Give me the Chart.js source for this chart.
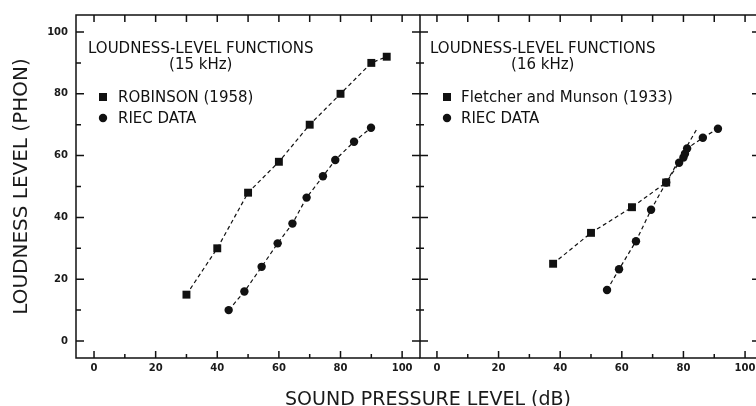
<!DOCTYPE html>
<html>
<head>
<meta charset="utf-8">
<script src="https://cdn.jsdelivr.net/npm/chart.js@4/dist/chart.umd.min.js"></script>
<style>
  html, body { margin: 0; padding: 0; background: #fff; width: 756px; height: 406px; overflow: hidden; position: relative; }
  #c1 { position: absolute; left: 0; top: 0; }
  #c2 { position: absolute; left: 410px; top: 0; }
  #xtitle { position: absolute; left: 0; top: 387px; width: 856px; height: 20px; line-height: 20px;
            text-align: center; font: 19px "DejaVu Sans", sans-serif; color: #1a1a1a; white-space: nowrap; }
</style>
</head>
<body>
<canvas id="c1" width="424" height="406"></canvas>
<canvas id="c2" width="350" height="406"></canvas>
<div id="xtitle">SOUND PRESSURE LEVEL (dB)</div>
<script>
// ---------- data ----------
const xTicks = [0, 20, 40, 60, 80, 100];
const xMinorTicks = [10, 30, 50, 70, 90];
const yTicks = [0, 20, 40, 60, 80, 100];
const yMinorTicks = [10, 30, 50, 70, 90];

const leftTitle = ['LOUDNESS-LEVEL FUNCTIONS', '(15 kHz)'];
const rightTitle = ['LOUDNESS-LEVEL FUNCTIONS', '(16 kHz)'];
const yAxisTitle = 'LOUDNESS LEVEL (PHON)';

// 15 kHz panel
const robinsonLabel = 'ROBINSON (1958)';
const robinsonSPL   = [30, 40, 50, 60, 70, 80, 90, 95];
const robinsonPhon  = [15, 30, 48, 58, 70, 80, 90, 92];

const riec15Label = 'RIEC DATA';
const riec15SPL   = [43.7, 48.8, 54.4, 59.6, 64.4, 69.0, 74.3, 78.3, 84.4, 89.9];
const riec15Phon  = [10.0, 16.0, 24.0, 31.6, 38.0, 46.4, 53.3, 58.6, 64.5, 69.0];

// 16 kHz panel
const fletcherLabel = 'Fletcher and Munson (1933)';
const fletcherSPL   = [37.7, 50.0, 63.3, 74.4, 84.4];
const fletcherPhon  = [25.0, 35.0, 43.3, 51.3, 68.7];

const riec16Label = 'RIEC DATA';
const riec16SPL   = [55.2, 59.1, 64.6, 69.5, 74.4, 78.6, 80.0, 80.5, 81.2, 86.3, 91.2];
const riec16Phon  = [16.5, 23.2, 32.3, 42.5, 51.3, 57.7, 59.4, 60.6, 62.3, 65.8, 68.7];

// ---------- helpers ----------
const INK = '#111';
const pts = (xs, ys) => xs.map((x, i) => ({ x, y: ys[i] }));

function makeDataset(label, xs, ys, style, hideLast) {
  const r = style === 'rect' ? 5.6 : 4.2;
  return {
    label,
    data: pts(xs, ys),
    showLine: true,
    borderColor: INK,
    backgroundColor: INK,
    borderWidth: 1.2,
    borderDash: [4, 3],
    pointStyle: style,
    pointRadius: hideLast ? (c => c.dataIndex === xs.length - 1 ? 0 : r) : r,
    pointBorderWidth: 0,
    pointHoverRadius: r,
    tension: 0
  };
}

// frame + inward tick marks, drawn from the scales
const framePlugin = {
  id: 'frame',
  afterDraw(chart, args, opts) {
    const { ctx, chartArea: { left, right, top, bottom }, scales: { x, y } } = chart;
    ctx.save();
    ctx.strokeStyle = INK;
    ctx.lineWidth = 1.5;
    ctx.beginPath();
    if (opts.mode === 'left') {
      ctx.moveTo(right, top); ctx.lineTo(left, top); ctx.lineTo(left, bottom); ctx.lineTo(right, bottom);
    } else {
      ctx.rect(left, top, right - left, bottom - top);
    }
    xTicks.forEach(v => {
      const px = x.getPixelForValue(v);
      ctx.moveTo(px, bottom); ctx.lineTo(px, bottom - 7);
      ctx.moveTo(px, top); ctx.lineTo(px, top + 7);
    });
    xMinorTicks.forEach(v => {
      const px = x.getPixelForValue(v);
      ctx.moveTo(px, bottom); ctx.lineTo(px, bottom - 4);
      ctx.moveTo(px, top); ctx.lineTo(px, top + 7);
    });
    yTicks.forEach(v => {
      const py = y.getPixelForValue(v);
      if (opts.mode === 'left') {
        ctx.moveTo(left, py); ctx.lineTo(left + 8, py);
      } else {
        ctx.moveTo(left - 8, py); ctx.lineTo(left + 8, py);
        ctx.moveTo(right, py); ctx.lineTo(right - 6, py);
      }
    });
    yMinorTicks.forEach(v => {
      const py = y.getPixelForValue(v);
      if (opts.mode === 'left') {
        ctx.moveTo(left, py); ctx.lineTo(left + 5, py);
      } else {
        ctx.moveTo(left - 4, py); ctx.lineTo(left + 4, py);
      }
    });
    ctx.stroke();
    ctx.restore();
  }
};

// in-panel title and key
const panelTextPlugin = {
  id: 'panelText',
  afterDraw(chart, args, opts) {
    const { ctx, chartArea: { left, top } } = chart;
    ctx.save();
    ctx.fillStyle = INK;
    ctx.font = '15px "DejaVu Sans", sans-serif';
    ctx.textBaseline = 'middle';
    ctx.textAlign = 'left';
    const t0 = left + opts.titleDx;
    ctx.fillText(opts.title[0], t0, top + 34);
    const w0 = ctx.measureText(opts.title[0]).width;
    ctx.textAlign = 'center';
    ctx.fillText(opts.title[1], t0 + w0 / 2, top + 50);
    ctx.textAlign = 'left';
    chart.data.datasets.forEach((ds, i) => {
      const yy = top + 82 + i * 21;
      const mx = left + 27;
      ctx.beginPath();
      if (ds.pointStyle === 'rect') {
        ctx.rect(mx - 4, yy - 4, 8, 8);
      } else {
        ctx.arc(mx, yy, 4.2, 0, Math.PI * 2);
      }
      ctx.fill();
      ctx.fillText(ds.label, left + opts.keyDx, yy + 1);
    });
    ctx.restore();
  }
};

const tickFont = { family: '"DejaVu Sans", sans-serif', size: 10, weight: 'bold' };

function xScale(min, max) {
  return {
    type: 'linear', position: 'bottom', min, max,
    afterBuildTicks: s => { s.ticks = xTicks.map(v => ({ value: v })); },
    afterFit: s => { s.height = 48; s.paddingLeft = 0; s.paddingRight = 0; },
    grid: { display: false, drawTicks: false },
    border: { display: false },
    ticks: { color: '#1a1a1a', font: tickFont, padding: 4, maxRotation: 0, autoSkip: false }
  };
}

const yMin = -5.5, yMax = 105.5;

// ---------- left panel (15 kHz) ----------
new Chart(document.getElementById('c1'), {
  type: 'scatter',
  data: {
    datasets: [
      makeDataset(robinsonLabel, robinsonSPL, robinsonPhon, 'rect', false),
      makeDataset(riec15Label, riec15SPL, riec15Phon, 'circle', false)
    ]
  },
  options: {
    responsive: false,
    animation: false,
    events: [],
    layout: { autoPadding: false, padding: { left: 0, right: 4, top: 15, bottom: 0 } },
    scales: {
      x: xScale(-5.85, 105.8),
      y: {
        type: 'linear', min: yMin, max: yMax,
        afterBuildTicks: s => { s.ticks = yTicks.map(v => ({ value: v })); },
        afterFit: s => { s.width = 76; s.paddingTop = 0; s.paddingBottom = 0; },
        grid: { display: false, drawTicks: false },
        border: { display: false },
        ticks: { color: '#1a1a1a', font: tickFont, padding: 8 },
        title: {
          display: true, text: yAxisTitle, color: '#1a1a1a',
          font: { family: '"DejaVu Sans", sans-serif', size: 20 },
          padding: { top: 10, bottom: 0 }
        }
      }
    },
    plugins: {
      legend: { display: false },
      tooltip: { enabled: false },
      frame: { mode: 'left' },
      panelText: { title: leftTitle, titleDx: 12, keyDx: 42 }
    }
  },
  plugins: [framePlugin, panelTextPlugin]
});

// ---------- right panel (16 kHz) ----------
new Chart(document.getElementById('c2'), {
  type: 'scatter',
  data: {
    datasets: [
      makeDataset(fletcherLabel, fletcherSPL, fletcherPhon, 'rect', true),
      makeDataset(riec16Label, riec16SPL, riec16Phon, 'circle', false)
    ]
  },
  options: {
    responsive: false,
    animation: false,
    events: [],
    layout: { autoPadding: false, padding: { left: 10, right: 2, top: 15, bottom: 0 } },
    scales: {
      x: xScale(-5.5, 104.2),
      y: { type: 'linear', display: false, min: yMin, max: yMax }
    },
    plugins: {
      legend: { display: false },
      tooltip: { enabled: false },
      frame: { mode: 'right' },
      panelText: { title: rightTitle, titleDx: 10, keyDx: 41 }
    }
  },
  plugins: [framePlugin, panelTextPlugin]
});
</script>
</body>
</html>
